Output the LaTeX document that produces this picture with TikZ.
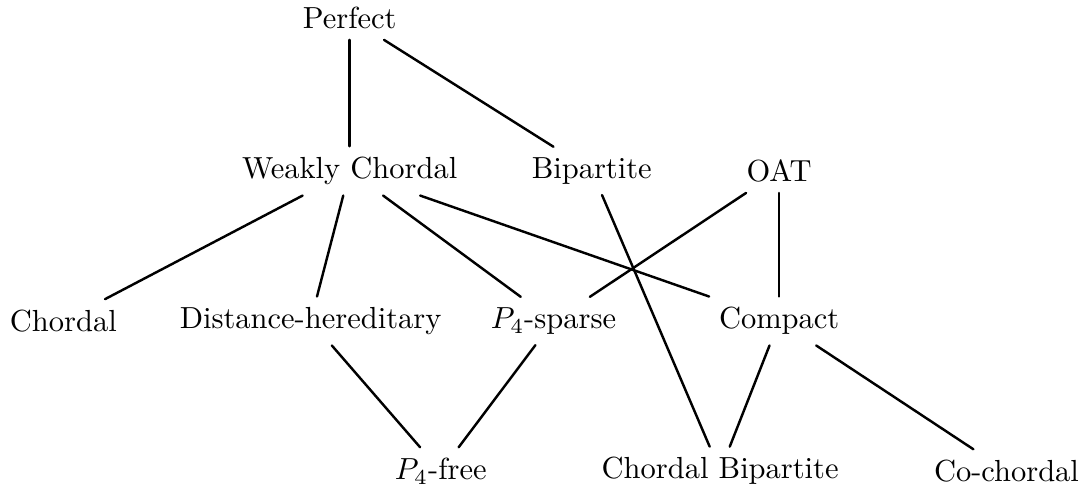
\documentclass[tikz,border=0pt]{standalone}
\begin{document}
\begin{tikzpicture}[line cap=round,line join=round]
  \useasboundingbox (0,0) rectangle (12.54,5.67);
  \node (perf) at (4.03,5.46) {Perfect};
  \node (wchord) at (4.03,3.70) {Weakly Chordal};
  \node (bip) at (6.82,3.70) {Bipartite};
  \node (oat) at (8.98,3.70) {OAT};
  \node (chord) at (0.73,1.97) {Chordal};
  \node (dher) at (3.58,1.97) {Distance-hereditary};
  \node (psparse) at (6.38,1.97) {$P_4$-sparse};
  \node (compact) at (8.98,1.97) {Compact};
  \node (pfree) at (5.08,0.24) {$P_4$-free};
  \node (chbip) at (8.30,0.24) {Chordal Bipartite};
  \node (cochord) at (11.60,0.24) {Co-chordal};
  \draw[line width=0.8pt] (perf) -- (wchord);
  \draw[line width=0.8pt] (perf) -- (bip);
  \draw[line width=0.8pt] (wchord) -- (chord);
  \draw[line width=0.8pt] (wchord) -- (dher);
  \draw[line width=0.8pt] (wchord) -- (psparse);
  \draw[line width=0.8pt] (wchord) -- (compact);
  \draw[line width=0.8pt] (bip) -- (chbip);
  \draw[line width=0.8pt] (oat) -- (psparse);
  \draw[line width=0.8pt] (oat) -- (compact);
  \draw[line width=0.8pt] (dher) -- (pfree);
  \draw[line width=0.8pt] (psparse) -- (pfree);
  \draw[line width=0.8pt] (compact) -- (chbip);
  \draw[line width=0.8pt] (compact) -- (cochord);
\end{tikzpicture}
\end{document}
